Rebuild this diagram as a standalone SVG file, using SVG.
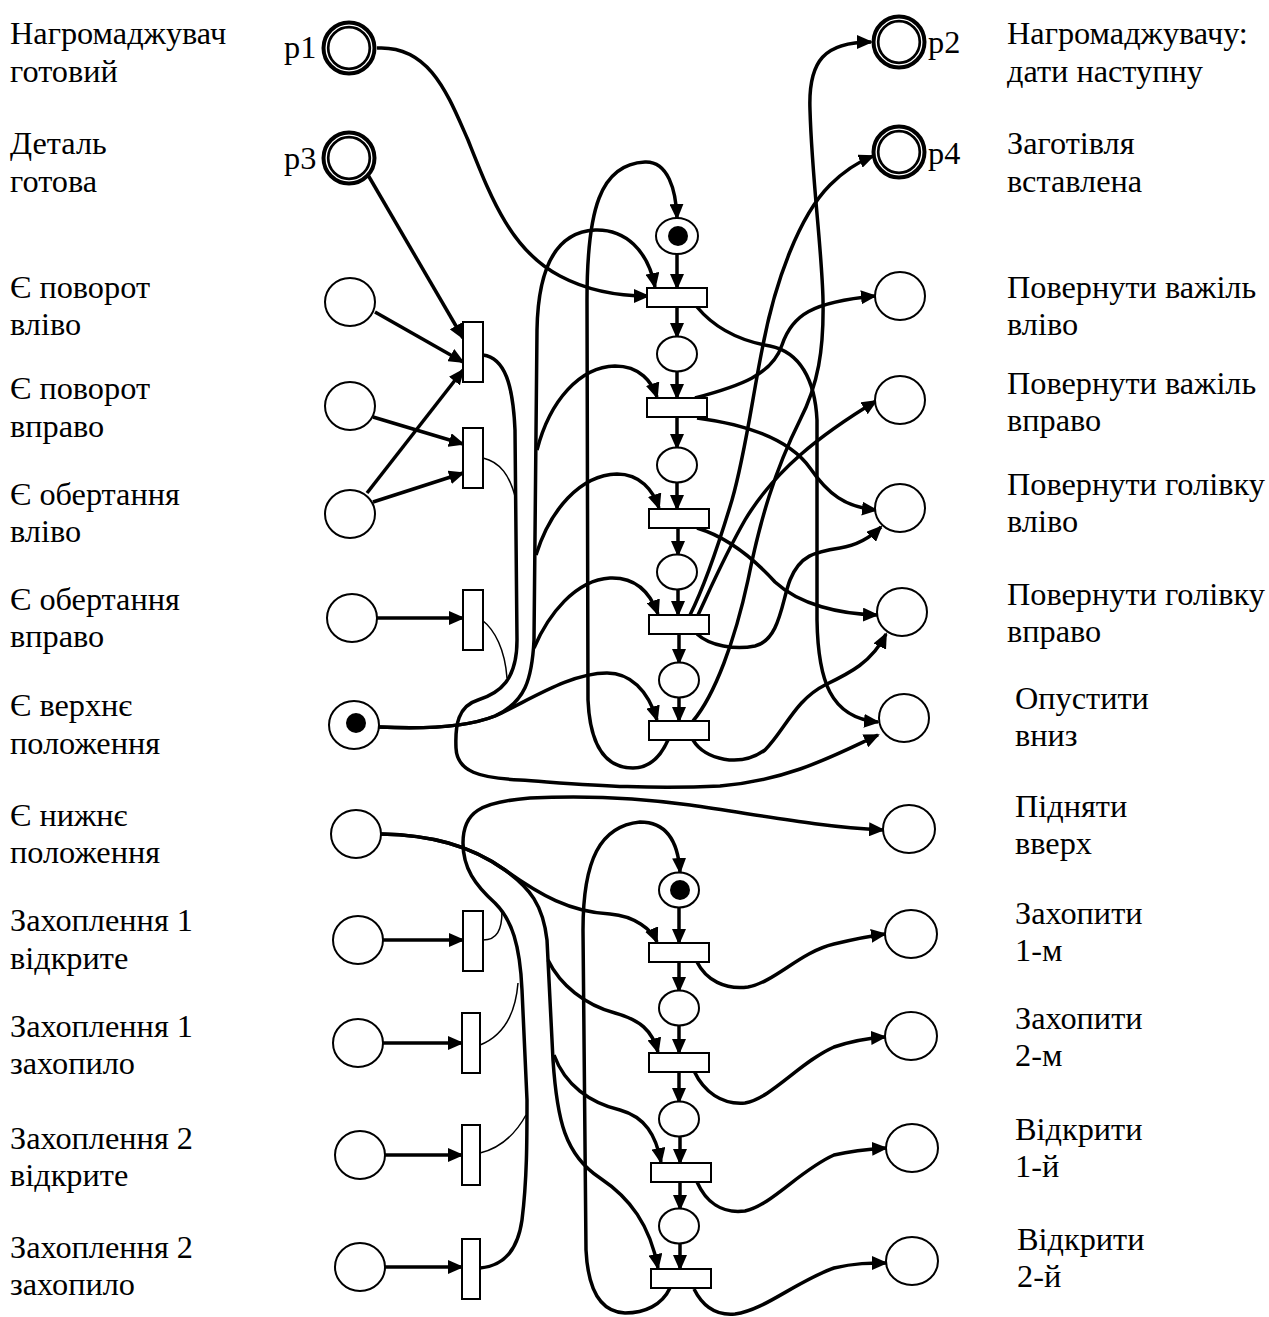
<svg xmlns="http://www.w3.org/2000/svg" width="1269" height="1317" viewBox="0 0 1269 1317">
  <style>
    .lbl { font-family: "Liberation Serif", "Times New Roman", serif; font-size: 32.3px; fill: #000; }
    .place { fill: #fff; stroke: #000; stroke-width: 2; }
    .small { fill: #fff; stroke: #000; stroke-width: 2; }
    .tr { fill: #fff; stroke: #000; stroke-width: 2; }
    .token { fill: #000; stroke: none; }
    .ext-outer { fill: #fff; stroke: #000; stroke-width: 4; }
    .ext-inner { fill: none; stroke: #000; stroke-width: 2.7; }
    .arc { fill: none; stroke: #000; stroke-width: 3.5; }
    .arr { marker-end: url(#ah); }
    .thin { fill: none; stroke: #000; stroke-width: 1.5; }
  </style>
  <defs>
    <marker id="ah" markerUnits="userSpaceOnUse" markerWidth="16" markerHeight="14" refX="14" refY="7" orient="auto">
      <path d="M0,0 L16,7 L0,14 z" fill="#000"/>
    </marker>
  </defs>
  <rect width="1269" height="1317" fill="#fff"/>

  <!-- connectors -->
  <g id="connectors">
    <!-- input bundles on the left -->
    <path class="arc arr" d="M368,175 L463,338"/>
    <path class="arc arr" d="M375,312 L463,362"/>
    <path class="arc arr" d="M373,417 L463,444"/>
    <path class="arc arr" d="M367,493 L463,370"/>
    <path class="arc arr" d="M373,502 L463,473"/>
    <path class="arc arr" d="M377,618 L463,618"/>
    <path class="arc arr" d="M383,940 L463,940"/>
    <path class="arc arr" d="M383,1043 L462,1043"/>
    <path class="arc arr" d="M385,1155 L462,1155"/>
    <path class="arc arr" d="M385,1267 L462,1267"/>

    <!-- p1 to first transition -->
    <path class="arc arr" d="M377,48 C430,45 448,95 468,140 C490,195 510,250 560,276 C590,292 620,296 648,296"/>

    <!-- turn transitions to "lower" output -->
    <path class="arc arr" d="M483,355 C505,358 513,385 515,430 L517,640 C517,680 500,693 478,700 C458,706 455,725 456,748 C457,772 480,778 520,780 C580,784 640,790 720,786 C790,780 835,755 878,735"/>
    <path class="thin" d="M483,458 C500,462 510,475 516,500"/>
    <path class="thin" d="M482,620 C495,630 505,650 507,678"/>

    <!-- upper position bundle -->
    <path class="arc arr" d="M379,727 C420,729 465,728 495,716 C530,700 570,673 607,673 C630,673 648,690 657,720"/>
    <path class="arc arr" d="M379,727 C420,729 465,728 495,716 C525,702 532,680 534,640 L537,330 C538,270 555,232 595,230 C625,229 648,250 655,287"/>
    <path class="arc arr" d="M537,450 C550,400 580,367 615,366 C640,366 652,382 657,397"/>
    <path class="arc arr" d="M536,555 C550,510 580,475 617,474 C640,474 653,490 659,508"/>
    <path class="arc arr" d="M534,648 C548,615 575,580 610,578 C635,577 650,592 658,614"/>

    <!-- upper chain -->
    <path class="arc arr" d="M677,254 L677,288"/>
    <path class="arc arr" d="M677,307 L677,337"/>
    <path class="arc arr" d="M677,372 L677,398"/>
    <path class="arc arr" d="M677,417 L677,448"/>
    <path class="arc arr" d="M677,483 L677,509"/>
    <path class="arc arr" d="M678,528 L678,555"/>
    <path class="arc arr" d="M678,590 L678,615"/>
    <path class="arc arr" d="M679,634 L679,663"/>
    <path class="arc arr" d="M679,698 L679,721"/>
    <path class="arc arr" d="M668,740 C660,758 648,768 633,768 C605,768 590,745 588,700 L587,300 C587,210 600,164 645,162 C668,161 676,190 677,218"/>

    <!-- upper outputs -->
    <path class="arc arr" d="M693,721 C715,695 735,640 748,580 C760,520 775,470 800,420 C818,385 824,350 823,300 C822,250 812,180 810,110 C808,60 825,42 871,42"/>
    <path class="arc arr" d="M690,615 C705,585 720,540 732,500 C745,455 752,400 762,350 C775,280 800,215 830,185 C845,170 858,162 873,156"/>
    <path class="arc arr" d="M698,615 C712,585 725,555 745,520 C775,470 820,435 876,401"/>
    <path class="arc arr" d="M697,634 C710,646 735,650 755,646 C780,640 782,600 790,580 C800,555 815,552 840,548 C858,545 870,538 881,527"/>
    <path class="arc arr" d="M697,307 C712,325 735,340 770,346 C800,352 815,380 817,420 L817,620 C818,680 830,718 878,722"/>
    <path class="arc arr" d="M695,398 C740,386 772,375 782,345 C792,315 812,302 875,296"/>
    <path class="arc arr" d="M697,418 C750,425 790,440 810,468 C828,494 845,507 876,510"/>
    <path class="arc arr" d="M697,528 C730,538 755,560 775,582 C800,605 840,614 877,615"/>
    <path class="arc arr" d="M693,740 C705,760 740,768 765,750 C785,730 795,700 825,685 C850,673 872,662 886,634"/>

    <!-- lower position bundle -->
    <path class="arc arr" d="M381,834 C430,835 470,845 505,870 C540,895 570,912 610,914 C635,916 652,930 657,942"/>
    <path class="arc arr" d="M381,834 C430,835 470,845 505,870 C530,888 543,905 547,940 L553,1060 C557,1120 565,1155 600,1178 C630,1198 650,1225 658,1268"/>
    <path class="arc arr" d="M548,960 C560,985 585,1005 615,1013 C640,1020 652,1030 658,1052"/>
    <path class="arc arr" d="M554,1055 C565,1085 590,1103 620,1110 C645,1117 656,1135 661,1162"/>

    <!-- gripper transitions to "raise" output -->
    <path class="arc arr" d="M480,1268 C505,1266 518,1248 522,1220 C527,1180 527,1140 527,1100 L522,990 C520,945 512,920 495,903 C475,885 463,868 463,843 C463,812 480,802 530,798 C590,795 640,798 690,805 C760,815 820,827 883,830"/>
    <path class="thin" d="M483,940 C497,940 502,930 502,911"/>
    <path class="thin" d="M480,1045 C500,1037 515,1020 518,983"/>
    <path class="thin" d="M480,1153 C500,1148 515,1135 526,1115"/>

    <!-- lower chain -->
    <path class="arc arr" d="M679,908 L679,943"/>
    <path class="arc arr" d="M679,962 L679,991"/>
    <path class="arc arr" d="M679,1026 L679,1053"/>
    <path class="arc arr" d="M679,1072 L679,1102"/>
    <path class="arc arr" d="M680,1137 L680,1163"/>
    <path class="arc arr" d="M680,1182 L680,1209"/>
    <path class="arc arr" d="M680,1244 L680,1269"/>
    <path class="arc arr" d="M670,1288 C662,1305 645,1313 625,1313 C600,1312 588,1290 586,1250 L583,930 C583,860 600,826 640,822 C665,822 678,840 680,872"/>

    <!-- lower outputs -->
    <path class="arc arr" d="M697,962 C706,980 725,990 748,987 C775,982 800,952 834,944 C855,939 870,936 885,934"/>
    <path class="arc arr" d="M694,1071 C704,1092 722,1105 745,1103 C772,1098 800,1062 834,1047 C855,1040 870,1038 885,1037"/>
    <path class="arc arr" d="M697,1182 C706,1202 722,1214 745,1211 C772,1205 800,1170 834,1155 C855,1150 870,1149 886,1148"/>
    <path class="arc arr" d="M694,1289 C702,1305 714,1316 735,1314 C765,1310 795,1282 834,1268 C855,1263 870,1263 886,1263"/>
  </g>

  <!-- external places -->
  <g id="p1"><circle class="ext-outer" cx="349" cy="48" r="25.5"/><circle class="ext-inner" cx="349" cy="48" r="20.8"/></g>
  <g id="p3"><circle class="ext-outer" cx="349" cy="158" r="25.5"/><circle class="ext-inner" cx="349" cy="158" r="20.8"/></g>
  <g id="p2"><circle class="ext-outer" cx="899" cy="42" r="25.5"/><circle class="ext-inner" cx="899" cy="42" r="20.8"/></g>
  <g id="p4"><circle class="ext-outer" cx="899" cy="152" r="25.5"/><circle class="ext-inner" cx="899" cy="152" r="20.8"/></g>

  <!-- sensor places -->
  <g id="s1"><ellipse class="place" cx="350" cy="302" rx="25" ry="24"/></g>
  <g id="s2"><ellipse class="place" cx="350" cy="406" rx="25" ry="24"/></g>
  <g id="s3"><ellipse class="place" cx="350" cy="514" rx="25" ry="24"/></g>
  <g id="s4"><ellipse class="place" cx="352" cy="618" rx="25" ry="24"/></g>
  <g id="s5"><ellipse class="place" cx="354" cy="725" rx="25" ry="24"/><circle class="token" cx="356" cy="723" r="10"/></g>
  <g id="s6"><ellipse class="place" cx="356" cy="834" rx="25" ry="24"/></g>
  <g id="s7"><ellipse class="place" cx="358" cy="940" rx="25" ry="24"/></g>
  <g id="s8"><ellipse class="place" cx="358" cy="1043" rx="25" ry="24"/></g>
  <g id="s9"><ellipse class="place" cx="360" cy="1155" rx="25" ry="24"/></g>
  <g id="s10"><ellipse class="place" cx="360" cy="1267" rx="25" ry="24"/></g>

  <!-- sensor transitions -->
  <g id="ts1"><rect class="tr" x="463" y="322" width="20" height="60"/></g>
  <g id="ts2"><rect class="tr" x="463" y="428" width="20" height="60"/></g>
  <g id="ts4"><rect class="tr" x="463" y="590" width="20" height="60"/></g>
  <g id="ts7"><rect class="tr" x="463" y="911" width="20" height="60"/></g>
  <g id="ts8"><rect class="tr" x="462" y="1013" width="18" height="60"/></g>
  <g id="ts9"><rect class="tr" x="462" y="1125" width="18" height="60"/></g>
  <g id="ts10"><rect class="tr" x="462" y="1239" width="18" height="60"/></g>

  <!-- upper control chain -->
  <g id="a0"><ellipse class="small" cx="677" cy="236" rx="21" ry="18"/><circle class="token" cx="678" cy="236" r="10"/></g>
  <g id="t1"><rect class="tr" x="647" y="288" width="60" height="19"/></g>
  <g id="a1"><ellipse class="small" cx="677" cy="354" rx="20" ry="17.5"/></g>
  <g id="t2"><rect class="tr" x="647" y="398" width="60" height="19"/></g>
  <g id="a2"><ellipse class="small" cx="677" cy="465" rx="20" ry="17.5"/></g>
  <g id="t3"><rect class="tr" x="649" y="509" width="60" height="19"/></g>
  <g id="a3"><ellipse class="small" cx="677" cy="572" rx="20" ry="17.5"/></g>
  <g id="t4"><rect class="tr" x="649" y="615" width="60" height="19"/></g>
  <g id="a4"><ellipse class="small" cx="679" cy="680" rx="20" ry="17.5"/></g>
  <g id="t5"><rect class="tr" x="649" y="721" width="60" height="19"/></g>

  <!-- lower control chain -->
  <g id="b0"><ellipse class="small" cx="679" cy="890" rx="20" ry="17.5"/><circle class="token" cx="680" cy="890" r="10"/></g>
  <g id="u1"><rect class="tr" x="649" y="943" width="60" height="19"/></g>
  <g id="b1"><ellipse class="small" cx="679" cy="1008" rx="20" ry="17.5"/></g>
  <g id="u2"><rect class="tr" x="649" y="1053" width="60" height="19"/></g>
  <g id="b2"><ellipse class="small" cx="679" cy="1119" rx="20" ry="17.5"/></g>
  <g id="u3"><rect class="tr" x="651" y="1163" width="60" height="19"/></g>
  <g id="b3"><ellipse class="small" cx="679" cy="1226" rx="20" ry="17.5"/></g>
  <g id="u4"><rect class="tr" x="651" y="1269" width="60" height="19"/></g>

  <!-- actuator places -->
  <g id="r1"><ellipse class="place" cx="900" cy="296" rx="25" ry="24"/></g>
  <g id="r2"><ellipse class="place" cx="900" cy="400" rx="25" ry="24"/></g>
  <g id="r3"><ellipse class="place" cx="900" cy="508" rx="25" ry="24"/></g>
  <g id="r4"><ellipse class="place" cx="902" cy="612" rx="25" ry="24"/></g>
  <g id="r5"><ellipse class="place" cx="904" cy="718" rx="25" ry="24"/></g>
  <g id="r6"><ellipse class="place" cx="909" cy="829" rx="26" ry="24"/></g>
  <g id="r7"><ellipse class="place" cx="911" cy="934" rx="26" ry="24"/></g>
  <g id="r8"><ellipse class="place" cx="911" cy="1036" rx="26" ry="24"/></g>
  <g id="r9"><ellipse class="place" cx="912" cy="1148" rx="26" ry="24"/></g>
  <g id="r10"><ellipse class="place" cx="912" cy="1261" rx="26" ry="24"/></g>

  <!-- place names -->
  <g id="names">
    <text class="lbl" x="284" y="58">p1</text>
    <text class="lbl" x="284" y="169">p3</text>
    <text class="lbl" x="928" y="53">p2</text>
    <text class="lbl" x="928" y="164">p4</text>
  </g>

  <!-- left captions -->
  <g id="left-labels">
    <text class="lbl" x="10" y="44">Нагромаджувач</text>
    <text class="lbl" x="10" y="82">готовий</text>
    <text class="lbl" x="10" y="154">Деталь</text>
    <text class="lbl" x="10" y="192">готова</text>
    <text class="lbl" x="10" y="298">Є поворот</text>
    <text class="lbl" x="10" y="335">вліво</text>
    <text class="lbl" x="10" y="399">Є поворот</text>
    <text class="lbl" x="10" y="437">вправо</text>
    <text class="lbl" x="10" y="505">Є обертання</text>
    <text class="lbl" x="10" y="542">вліво</text>
    <text class="lbl" x="10" y="610">Є обертання</text>
    <text class="lbl" x="10" y="647">вправо</text>
    <text class="lbl" x="10" y="716">Є верхнє</text>
    <text class="lbl" x="10" y="754">положення</text>
    <text class="lbl" x="10" y="826">Є нижнє</text>
    <text class="lbl" x="10" y="863">положення</text>
    <text class="lbl" x="10" y="931">Захоплення 1</text>
    <text class="lbl" x="10" y="969">відкрите</text>
    <text class="lbl" x="10" y="1037">Захоплення 1</text>
    <text class="lbl" x="10" y="1074">захопило</text>
    <text class="lbl" x="10" y="1149">Захоплення 2</text>
    <text class="lbl" x="10" y="1186">відкрите</text>
    <text class="lbl" x="10" y="1258">Захоплення 2</text>
    <text class="lbl" x="10" y="1295">захопило</text>
  </g>

  <!-- right captions -->
  <g id="right-labels">
    <text class="lbl" x="1007" y="44">Нагромаджувачу:</text>
    <text class="lbl" x="1007" y="82">дати наступну</text>
    <text class="lbl" x="1007" y="154">Заготівля</text>
    <text class="lbl" x="1007" y="192">вставлена</text>
    <text class="lbl" x="1007" y="298">Повернути важіль</text>
    <text class="lbl" x="1007" y="335">вліво</text>
    <text class="lbl" x="1007" y="394">Повернути важіль</text>
    <text class="lbl" x="1007" y="431">вправо</text>
    <text class="lbl" x="1007" y="495">Повернути голівку</text>
    <text class="lbl" x="1007" y="532">вліво</text>
    <text class="lbl" x="1007" y="605">Повернути голівку</text>
    <text class="lbl" x="1007" y="642">вправо</text>
    <text class="lbl" x="1015" y="709">Опустити</text>
    <text class="lbl" x="1015" y="746">вниз</text>
    <text class="lbl" x="1015" y="817">Підняти</text>
    <text class="lbl" x="1015" y="854">вверх</text>
    <text class="lbl" x="1015" y="924">Захопити</text>
    <text class="lbl" x="1015" y="961">1-м</text>
    <text class="lbl" x="1015" y="1029">Захопити</text>
    <text class="lbl" x="1015" y="1066">2-м</text>
    <text class="lbl" x="1015" y="1140">Відкрити</text>
    <text class="lbl" x="1015" y="1177">1-й</text>
    <text class="lbl" x="1017" y="1250">Відкрити</text>
    <text class="lbl" x="1017" y="1287">2-й</text>
  </g>
</svg>
